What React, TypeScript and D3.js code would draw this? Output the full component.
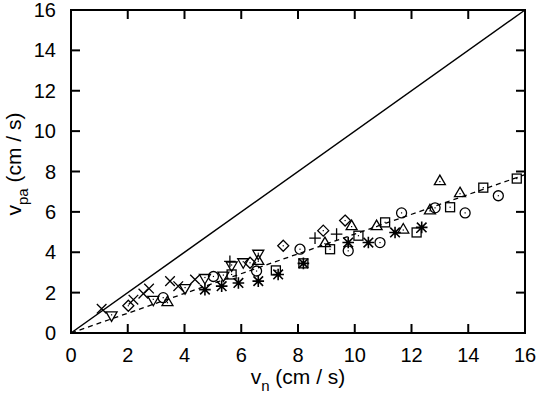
import React from "react";
import * as d3 from "d3";

const xTicks = [0, 2, 4, 6, 8, 10, 12, 14, 16];
const yTicks = [0, 2, 4, 6, 8, 10, 12, 14, 16];

const crossX = [1.08, 2.2, 2.55, 2.75, 3.49, 3.78, 4.37];
const crossY = [1.2, 1.65, 1.95, 2.2, 2.57, 2.32, 2.65];
const plusX = [5.6, 8.6, 9.36];
const plusY = [3.55, 4.7, 4.9];
const starX = [4.72, 5.31, 5.9, 6.6, 7.3, 8.19, 9.77, 10.48, 11.42, 12.36];
const starY = [2.15, 2.32, 2.48, 2.57, 2.9, 3.45, 4.48, 4.48, 4.98, 5.23];
const squareX = [5.66, 7.22, 8.19, 9.13, 10.13, 11.07, 12.18, 13.36, 14.53, 15.71];
const squareY = [2.9, 3.1, 3.45, 4.15, 4.82, 5.48, 4.98, 6.23, 7.2, 7.65];
const circleX = [3.25, 5.02, 6.54, 8.07, 9.77, 10.89, 11.65, 12.83, 13.89, 15.06];
const circleY = [1.75, 2.8, 3.07, 4.15, 4.07, 4.48, 5.95, 6.2, 5.95, 6.8];
const triUpX = [3.4, 6.6, 8.95, 9.89, 10.77, 11.71, 12.65, 13.0, 13.71];
const triUpY = [1.55, 3.6, 4.48, 5.32, 5.32, 5.15, 6.1, 7.55, 6.95];
const triDownX = [1.43, 2.9, 4.02, 4.72, 5.37, 5.66, 6.07, 6.6];
const triDownY = [0.85, 1.62, 2.2, 2.7, 2.82, 3.32, 3.48, 3.9];
const diamondX = [2.02, 6.31, 7.48, 8.89, 9.66];
const diamondY = [1.35, 3.48, 4.32, 5.07, 5.57];

const fitSlope = 0.49;

const W = 540;
const H = 398;
const x = d3.scaleLinear().domain([0, 16]).range([71, 525]);
const y = d3.scaleLinear().domain([0, 16]).range([333, 10]);

const FONT = "'Liberation Sans', Arial, Helvetica, sans-serif";
const TL = 9;

function pts(xs: number[], ys: number[]) {
  return xs.map((v, i) => [x(v), y(ys[i])] as [number, number]);
}

const dot = (cx: number, cy: number) => (
  <rect x={cx - 0.6} y={cy - 0.6} width={1.2} height={1.2} fill="#000" stroke="none" />
);

export default function App() {
  const line = d3.line<[number, number]>().x((d) => x(d[0])).y((d) => y(d[1]));
  const s = 4.8;
  return (
    <svg width={W} height={H} style={{ position: "absolute", left: 0, top: 0, background: "#fff" }}>
      <rect x={0} y={0} width={W} height={H} fill="#fff" />
      <path d={line([[0, 0], [16, 16]]) || ""} stroke="#000" strokeWidth={1.5} fill="none" />
      <path d={line([[0, 0], [16, 16 * fitSlope]]) || ""} stroke="#000" strokeWidth={1.3} strokeDasharray="5,4" fill="none" />
      <g stroke="#000" strokeWidth={1.3} fill="none">
        {pts(crossX, crossY).map(([cx, cy], i) => (
          <path key={"x" + i} d={`M${cx - s},${cy - s}L${cx + s},${cy + s}M${cx - s},${cy + s}L${cx + s},${cy - s}`} />
        ))}
        {pts(plusX, plusY).map(([cx, cy], i) => (
          <path key={"p" + i} d={`M${cx - s - 1},${cy}L${cx + s + 1},${cy}M${cx},${cy - s - 1}L${cx},${cy + s + 1}`} />
        ))}
        {pts(starX, starY).map(([cx, cy], i) => (
          <path
            key={"s" + i}
            strokeWidth={1.6}
            d={`M${cx - s},${cy - s}L${cx + s},${cy + s}M${cx - s},${cy + s}L${cx + s},${cy - s}M${cx - s - 1},${cy}L${cx + s + 1},${cy}M${cx},${cy - s - 1}L${cx},${cy + s + 1}`}
          />
        ))}
        {pts(squareX, squareY).map(([cx, cy], i) => (
          <g key={"q" + i}>
            <rect x={cx - 4.5} y={cy - 4.5} width={9} height={9} />
            {dot(cx, cy)}
          </g>
        ))}
        {pts(circleX, circleY).map(([cx, cy], i) => (
          <g key={"c" + i}>
            <circle cx={cx} cy={cy} r={5} />
            {dot(cx, cy)}
          </g>
        ))}
        {pts(triUpX, triUpY).map(([cx, cy], i) => (
          <g key={"u" + i}>
            <path d={`M${cx},${cy - 5.5}L${cx + 5.5},${cy + 4}L${cx - 5.5},${cy + 4}Z`} />
            {dot(cx, cy + 1)}
          </g>
        ))}
        {pts(triDownX, triDownY).map(([cx, cy], i) => (
          <g key={"d" + i}>
            <path d={`M${cx},${cy + 5.5}L${cx + 5.5},${cy - 4}L${cx - 5.5},${cy - 4}Z`} />
            {dot(cx, cy - 1)}
          </g>
        ))}
        {pts(diamondX, diamondY).map(([cx, cy], i) => (
          <g key={"m" + i}>
            <path d={`M${cx},${cy - 5.5}L${cx + 5.5},${cy}L${cx},${cy + 5.5}L${cx - 5.5},${cy}Z`} />
            {dot(cx, cy)}
          </g>
        ))}
      </g>
      <g stroke="#000" strokeWidth={2} fill="none">
        <rect x={x(0)} y={y(16)} width={x(16) - x(0)} height={y(0) - y(16)} />
        {xTicks.slice(1, -1).map((t) => (
          <g key={"xt" + t}>
            <line x1={x(t)} x2={x(t)} y1={y(0)} y2={y(0) - TL} />
            <line x1={x(t)} x2={x(t)} y1={y(16)} y2={y(16) + TL} />
          </g>
        ))}
        {yTicks.slice(1, -1).map((t) => (
          <g key={"yt" + t}>
            <line x1={x(0)} x2={x(0) + TL} y1={y(t)} y2={y(t)} />
            <line x1={x(16)} x2={x(16) - TL} y1={y(t)} y2={y(t)} />
          </g>
        ))}
      </g>
      <g fontFamily={FONT} fill="#000">
        <g fontSize={20}>
          {xTicks.map((t) => (
            <text key={"xl" + t} x={x(t)} y={362} textAnchor="middle">
              {t}
            </text>
          ))}
          {yTicks.map((t) => (
            <text key={"yl" + t} x={56} y={y(t) + 7} textAnchor="end">
              {t}
            </text>
          ))}
        </g>
        <text x={(x(0) + x(16)) / 2} y={384} textAnchor="middle" fontSize={21}>
          v<tspan fontSize={15} dy={7}>n</tspan>
          <tspan dy={-7}> (cm / s)</tspan>
        </text>
        <text transform={`translate(21,164) rotate(-90)`} textAnchor="middle" fontSize={21}>
          v<tspan fontSize={15} dy={7}>pa</tspan>
          <tspan dy={-7}> (cm / s)</tspan>
        </text>
      </g>
    </svg>
  );
}
